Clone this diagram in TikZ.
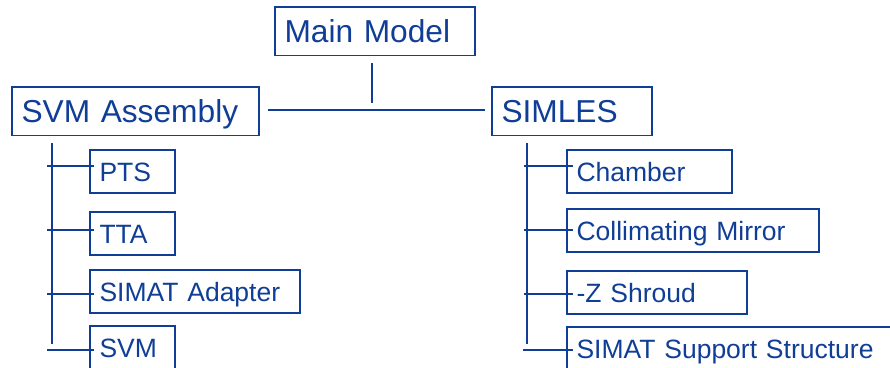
\documentclass[tikz,border=0pt]{standalone}
\usepackage{fontspec}
\setmainfont{Liberation Sans}
\definecolor{treeblue}{RGB}{16,62,150}
\tikzset{
  x=1pt, y=-1pt,
  boxbase/.style={draw=treeblue, line width=1.2pt, text=treeblue, anchor=north west,
    align=left, inner xsep=9.5pt, inner ysep=0pt, outer sep=0pt},
  bigbox/.style={boxbase, minimum height=48.5pt, text height=22.7pt, text depth=0pt,
    font=\fontsize{31.7}{38}\selectfont},
  smallbox/.style={boxbase, minimum height=43pt, text height=19pt, text depth=0pt,
    font=\fontsize{26.5}{32}\selectfont},
  link/.style={draw=treeblue, line width=1.2pt}
}
\begin{document}
\begin{tikzpicture}
\clip (0,0) rectangle (890,367);
% top level
\node[bigbox, minimum width=200pt, text width=181pt] (main) at (275,7) {Main Model};
\node[bigbox, minimum width=247pt, text width=228pt] (svmA) at (12,87) {SVM Assembly};
\node[bigbox, minimum width=160pt, text width=141pt] (simles) at (492,87) {SIMLES};
% left children
\node[smallbox, minimum width=85pt, text width=66pt] (pts) at (90,150) {PTS};
\node[smallbox, minimum width=85pt, text width=66pt] (tta) at (90,212) {TTA};
\node[smallbox, minimum width=210pt, text width=191pt] (simat) at (90,270) {SIMAT Adapter};
\node[smallbox, minimum width=85pt, text width=66pt] (svm) at (90,326) {SVM};
% right children
\node[smallbox, minimum width=165pt, text width=146pt] (chamber) at (567,150) {Chamber};
\node[smallbox, minimum width=252pt, text width=233pt] (colmir) at (567,209) {Collimating Mirror};
\node[smallbox, minimum width=180pt, text width=161pt] (zshroud) at (567,271) {-Z Shroud};
\node[smallbox, minimum width=333pt, text width=314pt] (sss) at (567,327) {SIMAT Support Structure};
% connector coordinates
\coordinate (mTop) at (372,63);
\coordinate (mBot) at (372,103);
\coordinate (hL) at (268,110);
\coordinate (hR) at (485,110);
\coordinate (lTop) at (52,143);
\coordinate (lBot) at (52,344);
\coordinate (rTop) at (527,143);
\coordinate (rBot) at (527,344);
\coordinate (lt1) at (47,166);
\coordinate (lt2) at (47,230);
\coordinate (lt3) at (47,294);
\coordinate (lt4) at (47,350);
\coordinate (rt1) at (524,166);
\coordinate (rt2) at (524,230);
\coordinate (rt3) at (524,294);
\coordinate (rt4) at (523,350);
% connectors
\draw[link] (mTop) -- (mBot);
\draw[link] (hL) -- (hR);
\draw[link] (lTop) -- (lBot);
\draw[link] (rTop) -- (rBot);
\draw[link] (lt1) -- (lt1 -| pts.west) -- ++(4,0);
\draw[link] (lt2) -- (lt2 -| tta.west) -- ++(4,0);
\draw[link] (lt3) -- (lt3 -| simat.west) -- ++(4,0);
\draw[link] (lt4) -- (lt4 -| svm.west) -- ++(4,0);
\draw[link] (rt1) -- (rt1 -| chamber.west) -- ++(6,0);
\draw[link] (rt2) -- (rt2 -| colmir.west) -- ++(6,0);
\draw[link] (rt3) -- (rt3 -| zshroud.west) -- ++(6,0);
\draw[link] (rt4) -- (rt4 -| sss.west) -- ++(6,0);
\end{tikzpicture}
\end{document}
